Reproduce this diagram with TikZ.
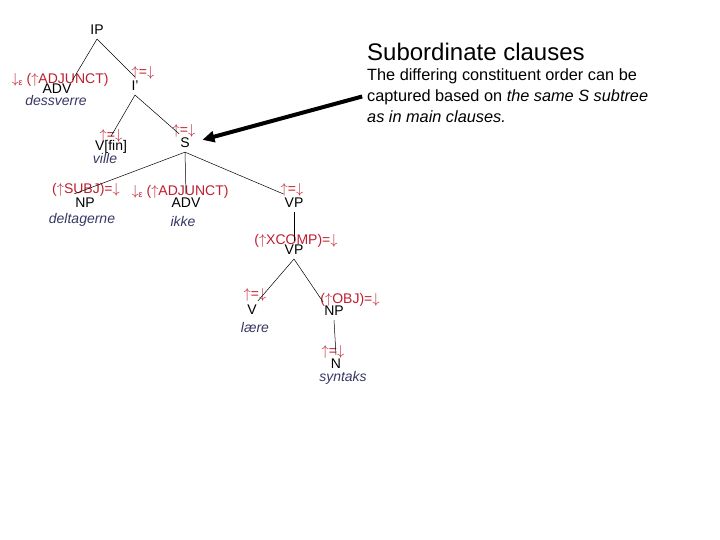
\documentclass[tikz,border=0pt]{standalone}
\usepackage{fontspec}
\setmainfont{Liberation Sans}
\usetikzlibrary{arrows.meta}
\definecolor{annot}{RGB}{190,30,45}
\definecolor{lexeme}{RGB}{55,55,100}
\newcommand\lowep{\raisebox{-2pt}{\fontsize{9}{9}\selectfont ε}}
\newcommand\upa{$\uparrow$}
\newcommand\dna{$\downarrow$}
\tikzset{
	cat/.style={inner xsep=1pt, inner ysep=4pt, font=\fontsize{14}{14}\selectfont},
	fstruct/.style={text=annot, inner sep=0pt, font=\fontsize{14}{14}\selectfont},
	lex/.style={text=lexeme, inner sep=0pt, font=\fontsize{14}{14}\selectfont\itshape},
	branch/.style={draw, line width=0.5pt}
}
\begin{document}
\begin{tikzpicture}[x=1pt, y=-1pt]
	\useasboundingbox (0,0) rectangle (720,540);

	% main clause part
	\node[cat] (ip) at (97,30) {IP};
	\node[cat] (adv1) at (57,89) {ADV};
	\node[fstruct] (adv1f) at (60,80) {\dna\lowep\ (\upa ADJUNCT)};
	\node[lex] (dessverre) at (56,101) {dessverre};
	\node[cat] (ibar) at (135,86) {I'};
	\node[fstruct] (ibarf) at (143,73) {\upa=\dna};

	\node[cat] (vfin) at (111,147) {V[fin]};
	\node[fstruct] (vfinf) at (111,136) {\upa=\dna};
	\node[lex] (ville) at (105,158) {ville};
	\node[cat] (s) at (185,143) {S};
	\node[fstruct] (sf) at (184,131) {\upa=\dna};

	% S subtree
	\node[cat] (np1) at (85,203) {NP};
	\node[fstruct] (np1f) at (86,190) {(\upa SUBJ)=\dna};
	\node[lex] (deltagerne) at (82,220) {deltagerne};
	\node[cat] (adv2) at (186,203) {ADV};
	\node[fstruct] (adv2f) at (180,192) {\dna\lowep\ (\upa ADJUNCT)};
	\node[lex] (ikke) at (183,221) {ikke};
	\node[cat] (vp1) at (294,203) {VP};
	\node[fstruct] (vp1f) at (292,190) {\upa=\dna};

	\node[cat] (vp2) at (294,250) {VP};
	\node[fstruct] (vp2f) at (296,241) {(\upa XCOMP)=\dna};
	\node[cat] (v) at (252,310) {V};
	\node[fstruct] (vf) at (255,295) {\upa=\dna};
	\node[lex] (laere) at (255,327) {lære};
	\node[cat] (np2) at (334,311) {NP};
	\node[fstruct] (np2f) at (350,300) {(\upa OBJ)=\dna};
	\node[cat] (n) at (336,364) {N};
	\node[fstruct] (nf) at (333,352) {\upa=\dna};
	\node[lex] (syntaks) at (343,378) {syntaks};

	\draw[branch] (ip.south) -- (adv1.north east);
	\draw[branch] (ip.south) -- (ibar.north);
	\draw[branch] (ibar.south) -- (vfin.north);
	\draw[branch] (ibar.south) -- (s.north west);
	\draw[branch] (s.south) -- (np1.north west);
	\draw[branch] (s.south) -- (adv2.north);
	\draw[branch] (s.south) -- (vp1.north west);
	\draw[branch] (vp1.south) -- (vp2.north);
	\draw[branch] (vp2.south) -- (v.north east);
	\draw[branch] (vp2.south) -- (np2.north west);
	\draw[branch] (np2.south) -- (n.north);

	% explanation
	\node[anchor=west, inner sep=0pt, font=\fontsize{24}{24}\selectfont] (title) at (367,52) {Subordinate clauses};
	\node[anchor=north west, inner sep=0pt, align=left, font=\fontsize{16.3}{21}\selectfont] (expl) at (367,68)
		{The differing constituent order can be\\captured based on \textit{the same S subtree}\\\textit{as in main clauses.}};
	\draw[-{Triangle[length=12pt, width=11pt]}, line width=4pt, shorten <=5pt, shorten >=12pt] (expl.west) -- (s.east);
\end{tikzpicture}
\end{document}
